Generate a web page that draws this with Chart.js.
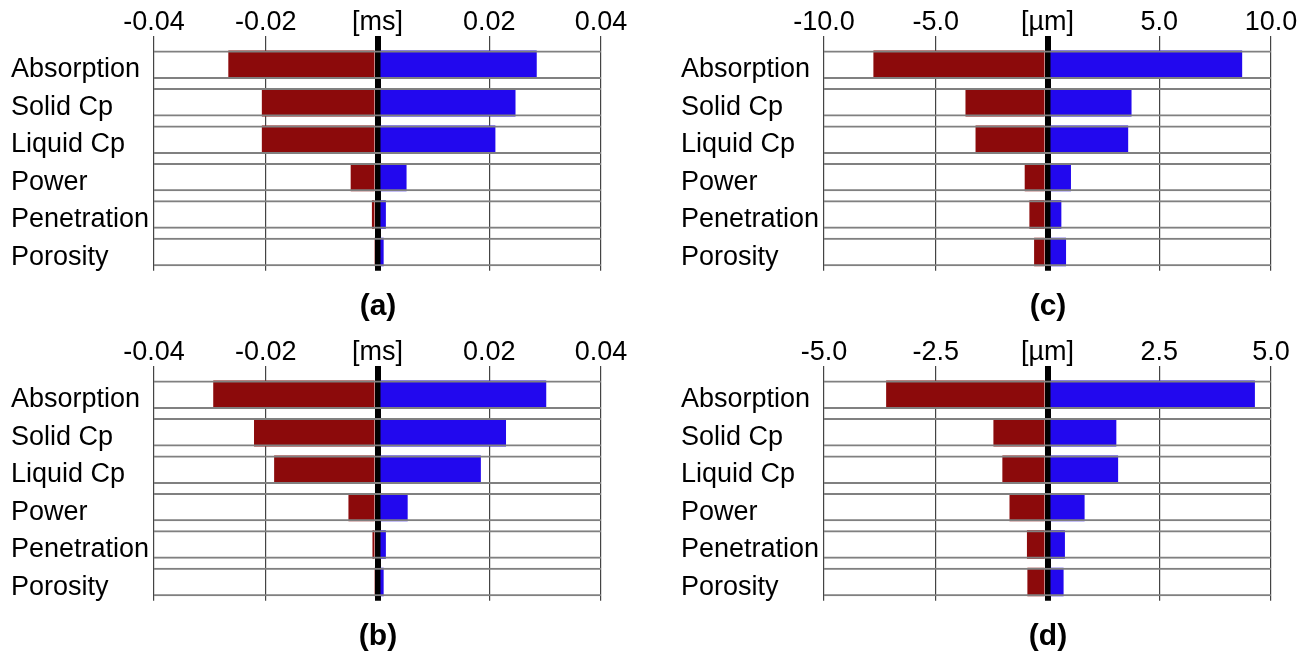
<!DOCTYPE html>
<html>
<head>
<meta charset="utf-8">
<script src="https://cdn.jsdelivr.net/npm/chart.js@4.4.1/dist/chart.umd.min.js"></script>
<style>
	body{margin:0;background:#fff;width:1309px;height:651px;position:relative;overflow:hidden;font-family:'Liberation Sans',Arial,sans-serif;}
	.panel{position:absolute;width:639px;height:290px;}
	.letra{position:absolute;width:100px;text-align:center;font-weight:bold;font-size:30px;line-height:34px;color:#000;}
</style>
</head>
<body>
<div class="panel" style="left:0;top:0"><canvas id="GraficoA"></canvas></div>
<div class="panel" style="left:670px;top:0"><canvas id="GraficoC"></canvas></div>
<div class="panel" style="left:0;top:330px"><canvas id="GraficoB"></canvas></div>
<div class="panel" style="left:670px;top:330px"><canvas id="GraficoD"></canvas></div>
<div class="letra" style="left:328px;top:288px">(a)</div>
<div class="letra" style="left:998px;top:288px">(c)</div>
<div class="letra" style="left:328px;top:618px">(b)</div>
<div class="letra" style="left:998px;top:618px">(d)</div>
<script>
	// categorias (de arriba hacia abajo)
	let categorias=['Absorption','Solid Cp','Liquid Cp','Power','Penetration','Porosity'];

	// (a) [ms]
	let a_bajo=[-0.0267,-0.0207,-0.0207,-0.0048,-0.0010,-0.0006];
	let a_alto=[0.0285,0.0247,0.0211,0.0052,0.0015,0.0011];
	// (b) [ms]
	let b_bajo=[-0.0294,-0.0221,-0.0185,-0.0052,-0.0009,-0.0006];
	let b_alto=[0.0302,0.0230,0.0185,0.0054,0.0015,0.0011];
	// (c) [um]
	let c_bajo=[-7.79,-3.67,-3.22,-1.02,-0.81,-0.60];
	let c_alto=[8.71,3.76,3.61,1.05,0.62,0.83];
	// (d) [um]
	let d_bajo=[-3.61,-1.21,-1.01,-0.85,-0.46,-0.45];
	let d_alto=[4.64,1.54,1.58,0.83,0.39,0.36];

	// ejes: min, max, paso, unidad, decimales
	let eje_ms=[-0.04,0.04,0.02,'[ms]',2];
	let eje_c=[-10,10,5,'[\u00b5m]',1];
	let eje_d=[-5,5,2.5,'[\u00b5m]',1];

	Chart.defaults.font.family="'Liberation Sans', Arial, sans-serif";
	Chart.defaults.color='#000';

	function tornado(id,bajo,alto,eje){
		let CanvasG=document.getElementById(id).getContext('2d');
		let cajas=categorias.map(function(){return [eje[0],eje[1]];});
		let datos={
			labels:categorias,
			datasets:[
				{
					data:cajas,
					backgroundColor:'rgba(0,0,0,0)',
					borderColor:'#808080',
					borderWidth:{top:2,bottom:2,left:0,right:0},
					borderSkipped:false,
					grouped:false,
					barPercentage:0.76,
					categoryPercentage:1,
					order:0
				},
				{
					data:bajo,
					backgroundColor:'#8c0a0b',
					borderWidth:0,
					grouped:false,
					barPercentage:0.76,
					categoryPercentage:1,
					order:2
				},
				{
					data:alto,
					backgroundColor:'#2208ee',
					borderWidth:0,
					grouped:false,
					barPercentage:0.76,
					categoryPercentage:1,
					order:2
				}
			]
		};
		let opciones={
			responsive:true,
			maintainAspectRatio:false,
			animation:false,
			indexAxis:'y',
			layout:{padding:{left:11,right:38,top:0,bottom:19}},
			plugins:{legend:{display:false},tooltip:{enabled:false}},
			scales:{
				x:{
					position:'top',
					min:eje[0],
					max:eje[1],
					z:1,
					border:{display:false},
					grid:{
						color:function(c){return Math.abs(c.tick.value)<1e-9?'#000':'#444';},
						lineWidth:function(c){return Math.abs(c.tick.value)<1e-9?6:1.2;},
						tickLength:10,
						drawTicks:true
					},
					ticks:{
						stepSize:eje[2],
						padding:-3,
						maxRotation:0,
						font:{size:27},
						callback:function(v){
							if(Math.abs(v)<1e-9) return eje[3];
							return v.toFixed(eje[4]);
						}
					},
					afterFit:function(axis){axis.height=46;}
				},
				y:{
					border:{display:false},
					grid:{display:false},
					ticks:{
						crossAlign:'far',
						labelOffset:5,
						font:{size:27}
					},
					afterFit:function(axis){axis.width=143;}
				}
			}
		};
		let G=new Chart(CanvasG,{
			type:'bar',
			data:datos,
			options:opciones
		});
		return G;
	}

	tornado('GraficoA',a_bajo,a_alto,eje_ms);
	tornado('GraficoB',b_bajo,b_alto,eje_ms);
	tornado('GraficoC',c_bajo,c_alto,eje_c);
	tornado('GraficoD',d_bajo,d_alto,eje_d);
</script>
</body>
</html>
